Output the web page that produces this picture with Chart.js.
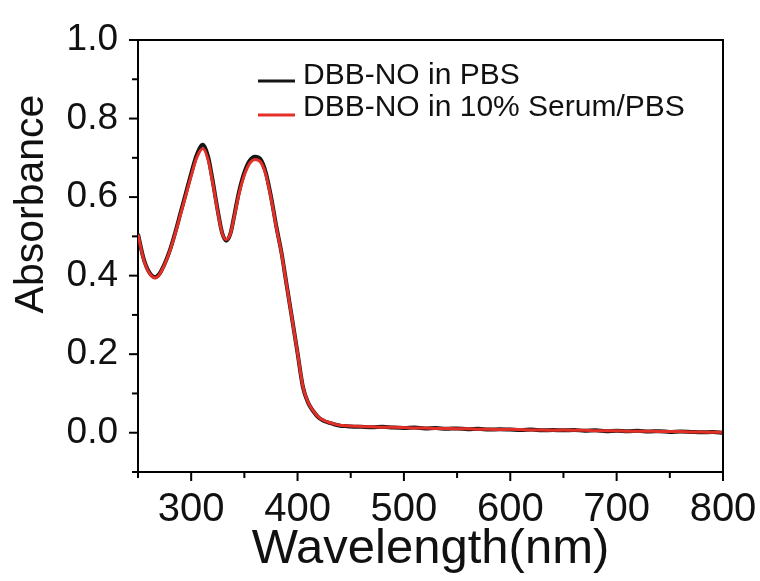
<!DOCTYPE html>
<html>
<head>
<meta charset="utf-8">
<title>Absorbance</title>
<script src="https://cdn.jsdelivr.net/npm/chart.js@4"></script>
<style>
    body { margin: 0; background: #fff; }
    #wrap { width: 760px; height: 581px; }
</style>
</head>
<body>
<div id="wrap"><canvas id="myChart"></canvas></div>
<script>
// wavelength (nm)
const wavelengths = [
    250, 255, 260, 266, 270, 275, 280, 285, 290, 295,
    300, 305, 311, 316, 320, 325, 329, 333, 337, 341,
    345, 350, 355, 360, 365, 370, 375, 380, 385, 390,
    395, 400, 405, 410, 415, 420, 425, 430, 435, 440,
    445, 450,
    460, 470, 480, 490, 500, 510, 520, 530, 540, 550,
    560, 570, 580, 590, 600, 610, 620, 630, 640, 650,
    660, 670, 680, 690, 700, 710, 720, 730, 740, 750,
    760, 770, 780, 790, 800,
];

// DBB-NO in PBS
const pbsValues = [
    0.506, 0.446, 0.411, 0.396, 0.404, 0.430, 0.465, 0.510, 0.560, 0.610,
    0.660, 0.706, 0.733, 0.702, 0.645, 0.565, 0.510, 0.489, 0.508, 0.560,
    0.614, 0.663, 0.693, 0.703, 0.697, 0.664, 0.602, 0.526, 0.457, 0.372,
    0.288, 0.203, 0.117, 0.076, 0.054, 0.038, 0.030, 0.025, 0.021, 0.018,
    0.017, 0.016,
    0.015, 0.014, 0.015, 0.013, 0.012, 0.013, 0.011, 0.012, 0.010, 0.011,
    0.009, 0.010, 0.008, 0.009, 0.008, 0.007, 0.008, 0.006, 0.007, 0.006,
    0.007, 0.005, 0.006, 0.004, 0.005, 0.004, 0.005, 0.003, 0.004, 0.002,
    0.003, 0.002, 0.001, 0.002, 0.000,
];

// DBB-NO in 10% Serum/PBS
const serumValues = [
    0.505, 0.444, 0.409, 0.394, 0.402, 0.428, 0.463, 0.507, 0.556, 0.605,
    0.654, 0.699, 0.724, 0.694, 0.640, 0.562, 0.509, 0.492, 0.508, 0.557,
    0.608, 0.656, 0.686, 0.696, 0.690, 0.659, 0.598, 0.523, 0.455, 0.371,
    0.287, 0.203, 0.118, 0.077, 0.055, 0.039, 0.031, 0.026, 0.022, 0.019,
    0.018, 0.017,
    0.016, 0.015, 0.014, 0.014, 0.013, 0.012, 0.012, 0.011, 0.011, 0.010,
    0.010, 0.009, 0.009, 0.008, 0.009, 0.008, 0.007, 0.007, 0.006, 0.007,
    0.006, 0.006, 0.005, 0.005, 0.005, 0.004, 0.004, 0.004, 0.003, 0.003,
    0.003, 0.002, 0.002, 0.001, 0.001,
];

const seriesNames = ["DBB-NO in PBS", "DBB-NO in 10% Serum/PBS"];
const seriesColors = ["#151515", "#e42f27"];

// axis ticks
const xMajorTicks = [300, 400, 500, 600, 700, 800];
const xMinorTicks = [250, 350, 450, 550, 650, 750];
const xTickLabels = ["300", "400", "500", "600", "700", "800"];
const yMajorTicks = [0.0, 0.2, 0.4, 0.6, 0.8, 1.0];
const yMinorTicks = [-0.1, 0.1, 0.3, 0.5, 0.7, 0.9];
const yTickLabels = ["0.0", "0.2", "0.4", "0.6", "0.8", "1.0"];
const yTitle = "Absorbance";
const xTitle = "Wavelength(nm)";

const FONT = '"Liberation Sans", Arial, Helvetica, sans-serif';

// make {x, y} points
function toPoints(values) {
    return wavelengths.map((w, i) => ({ x: w, y: values[i] }));
}

// put major and minor ticks on a scale
function setTicks(scale, major, minor) {
    const all = major.concat(minor).sort((a, b) => a - b);
    scale.ticks = all.map((v) => ({ value: v }));
}

// label only the major ticks
function labelFor(value, major, labels) {
    const i = major.findIndex((m) => Math.abs(m - value) < 1e-6);
    return i >= 0 ? labels[i] : "";
}

// frame, tick marks, y title and legend
const framePlugin = {
    id: "frame",
    afterDraw(chart) {
        const { ctx, chartArea: a, scales } = chart;
        ctx.save();
        ctx.strokeStyle = "#000";
        ctx.lineWidth = 2;
        ctx.beginPath();
        ctx.moveTo(a.left, a.top);
        ctx.lineTo(a.right, a.top);
        ctx.lineTo(a.right, a.bottom);
        ctx.stroke();

        // tick marks (outside)
        xMajorTicks.concat(xMinorTicks).forEach((v) => {
            const px = scales.x.getPixelForValue(v);
            const len = xMajorTicks.includes(v) ? 9 : 6;
            ctx.beginPath();
            ctx.moveTo(px, a.bottom);
            ctx.lineTo(px, a.bottom + len);
            ctx.stroke();
        });
        yMajorTicks.concat(yMinorTicks).forEach((v) => {
            const py = scales.y.getPixelForValue(v);
            const len = yMajorTicks.includes(v) ? 9 : 6;
            ctx.beginPath();
            ctx.moveTo(a.left, py);
            ctx.lineTo(a.left - len, py);
            ctx.stroke();
        });

        // y title (sits above the middle of the axis)
        ctx.save();
        ctx.translate(32, a.top + 164);
        ctx.rotate(-Math.PI / 2);
        ctx.font = "41px " + FONT;
        ctx.fillStyle = "#111";
        ctx.textAlign = "center";
        ctx.textBaseline = "middle";
        ctx.fillText(yTitle, 0, 0);
        ctx.restore();

        // legend
        ctx.font = "30px " + FONT;
        ctx.textBaseline = "middle";
        ctx.textAlign = "left";
        const rows = [
            { lineY: 41, textY: 36 },
            { lineY: 75, textY: 68 },
        ];
        seriesNames.forEach((name, i) => {
            ctx.strokeStyle = seriesColors[i];
            ctx.lineWidth = 3;
            ctx.beginPath();
            ctx.moveTo(a.left + 120, a.top + rows[i].lineY);
            ctx.lineTo(a.left + 157, a.top + rows[i].lineY);
            ctx.stroke();
            ctx.fillStyle = "#111";
            ctx.fillText(name, a.left + 165, a.top + rows[i].textY);
        });
        ctx.restore();
    },
};

// draw the chart
function drawChart() {
    const ctx = document.getElementById("myChart");
    new Chart(ctx, {
        type: "line",
        data: {
            datasets: [
                {
                    label: seriesNames[0],
                    data: toPoints(pbsValues),
                    borderColor: seriesColors[0],
                    borderWidth: 4,
                    pointRadius: 0,
                    cubicInterpolationMode: "monotone",
                    order: 2,
                },
                {
                    label: seriesNames[1],
                    data: toPoints(serumValues),
                    borderColor: seriesColors[1],
                    borderWidth: 3,
                    pointRadius: 0,
                    cubicInterpolationMode: "monotone",
                    order: 1,
                },
            ],
        },
        options: {
            responsive: true,
            maintainAspectRatio: false,
            animation: false,
            layout: { padding: { top: 40, right: 37, left: 0, bottom: 0 } },
            plugins: {
                legend: { display: false },
                tooltip: { enabled: false },
            },
            scales: {
                x: {
                    type: "linear",
                    min: 250,
                    max: 800,
                    afterBuildTicks: (s) => setTicks(s, xMajorTicks, xMinorTicks),
                    afterFit: (s) => {
                        s.height = 109;
                        s.paddingLeft = 0;
                        s.paddingRight = 0;
                    },
                    grid: { drawOnChartArea: false, drawTicks: false },
                    border: { color: "#000", width: 2 },
                    ticks: {
                        autoSkip: false,
                        maxRotation: 0,
                        padding: 14,
                        color: "#111",
                        font: { family: FONT, size: 40 },
                        callback: (v) => labelFor(v, xMajorTicks, xTickLabels),
                    },
                    title: {
                        display: true,
                        text: xTitle,
                        color: "#111",
                        font: { family: FONT, size: 49 },
                        padding: { top: 0, bottom: 2 },
                    },
                },
                y: {
                    min: -0.1,
                    max: 1.0,
                    afterBuildTicks: (s) => setTicks(s, yMajorTicks, yMinorTicks),
                    afterFit: (s) => {
                        s.width = 138;
                        s.paddingTop = 0;
                        s.paddingBottom = 0;
                    },
                    grid: { drawOnChartArea: false, drawTicks: false },
                    border: { color: "#000", width: 2 },
                    ticks: {
                        autoSkip: false,
                        padding: 20,
                        color: "#111",
                        font: { family: FONT, size: 37 },
                        callback: (v) => labelFor(v, yMajorTicks, yTickLabels),
                    },
                    title: { display: false },
                },
            },
        },
        plugins: [framePlugin],
    });
}

window.onload = function () {
    drawChart();
};
</script>
</body>
</html>
